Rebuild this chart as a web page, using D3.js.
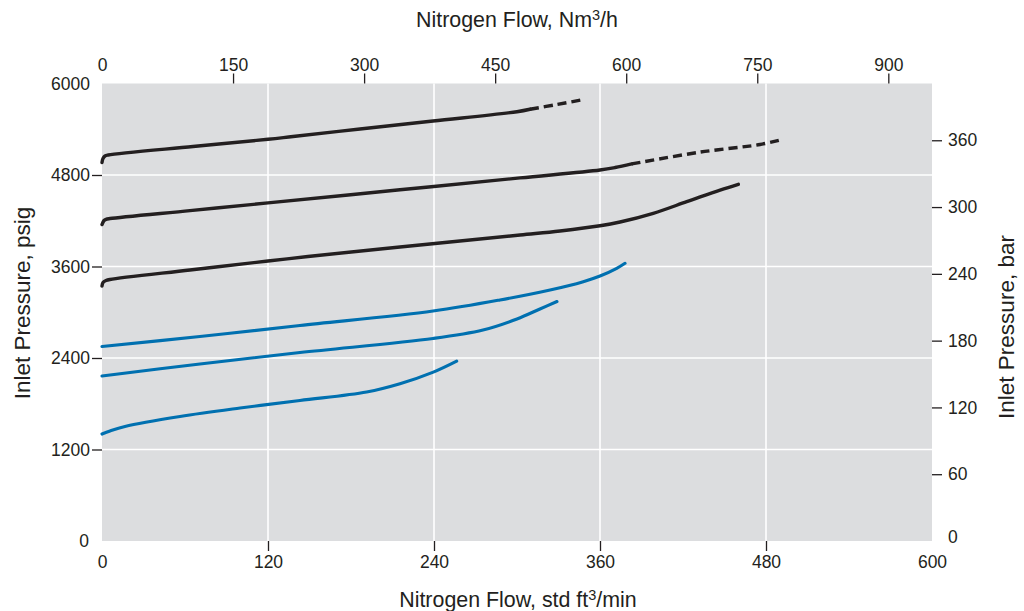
<!DOCTYPE html>
<html>
<head>
<meta charset="utf-8">
<script src="https://cdn.jsdelivr.net/npm/d3@7"></script>
<style>
  html, body { margin: 0; padding: 0; background: #fff; }
  svg { display: block; }
  text { font-family: "Liberation Sans", Arial, Helvetica, sans-serif; fill: #231f20; }
</style>
</head>
<body>
<svg id="chart" width="1024" height="611"></svg>
<script>
// ---- Data (flow in std ft3/min, pressure in psig) ----
const bottomTicks = [0, 120, 240, 360, 480, 600];
const topTicks = [0, 150, 300, 450, 600, 750, 900];
const leftTicks = [0, 1200, 2400, 3600, 4800, 6000];
const rightTicks = [0, 60, 120, 180, 240, 300, 360];

const line1Flow = [0, 0.72, 2.17, 4.55, 65.8, 120, 138.1, 186.5, 239.3, 300, 309.4];
const line1Psig = [4964, 5017, 5049, 5062, 5174, 5268, 5305, 5403, 5508, 5630, 5662];
const line1DashFlow = [309.4, 328.9, 349.2];
const line1DashPsig = [5662, 5725, 5793];

const line2Flow = [0, 1.45, 2.9, 5.8, 63.6, 120, 215.4, 302.2, 360, 370.9, 382.9];
const line2Psig = [4150, 4203, 4219, 4229, 4333, 4434, 4606, 4762, 4866, 4898, 4945];
const line2DashFlow = [382.9, 432.3, 475.7, 490.1];
const line2DashPsig = [4945, 5100, 5200, 5259];

const line3Flow = [0, 0.72, 2.9, 5.8, 63.6, 120, 148.9, 215.4, 302.2, 331.1, 360, 374.5, 398.5, 422.7, 446.8, 460];
const line3Psig = [3344, 3390, 3416, 3430, 3554, 3672, 3731, 3856, 4013, 4066, 4134, 4184, 4298, 4450, 4603, 4678];

const line4Flow = [0, 70.8, 143.1, 239.3, 287.7, 323.9, 347.9, 360, 372.1, 378.1];
const line4Psig = [2551, 2682, 2826, 3016, 3161, 3292, 3401, 3475, 3576, 3642];

const line5Flow = [0, 70.8, 143.1, 239.3, 275.4, 300, 316.6, 328.9];
const line5Psig = [2164, 2321, 2472, 2656, 2767, 2912, 3043, 3141];

const line6Flow = [0, 5.8, 16.6, 56.4, 99.8, 143.1, 191.3, 215.4, 239.5, 256.4];
const line6Psig = [1403, 1443, 1502, 1633, 1744, 1843, 1954, 2062, 2214, 2358];

// ---- Layout ----
const svg = d3.select("#chart");
const L = 102, R = 932, T = 83.5, B = 541;
const x = d3.scaleLinear().domain([0, 600]).range([L, R]);
const xTop = d3.scaleLinear().domain([0, 950]).range([L, R]);
const y = d3.scaleLinear().domain([0, 6000]).range([B, T]);
const yR = d3.scaleLinear().domain([0, 411]).range([B, T]);

const black = "#231f20", blue = "#0070b0";

// Plot background
svg.append("rect").attr("x", L).attr("y", T).attr("width", R - L).attr("height", B - T)
  .attr("fill", "#dcdddf");

// Grid
const grid = svg.append("g");
grid.selectAll("line.v").data(bottomTicks.filter(d => d > 0 && d < 600)).join("line")
  .attr("x1", d => x(d)).attr("x2", d => x(d)).attr("y1", T).attr("y2", B)
  .attr("stroke", "#fff").attr("stroke-width", 1.6);
grid.selectAll("line.h").data(leftTicks.filter(d => d > 0 && d < 6000)).join("line")
  .attr("x1", L).attr("x2", R).attr("y1", d => y(d)).attr("y2", d => y(d))
  .attr("stroke", "#fff").attr("stroke-width", 1.6);

// Axes
function styleAxis(g, edgeVals) {
  g.select(".domain").remove();
  g.selectAll(".tick line").attr("stroke", black).attr("stroke-width", 1.3)
    .filter(d => edgeVals.includes(d)).remove();
  g.selectAll(".tick text").attr("fill", black).style("font-size", "17.5px")
    .style("font-family", '"Liberation Sans", Arial, sans-serif');
}
const gB = svg.append("g").attr("transform", `translate(0,${B})`)
  .call(d3.axisBottom(x).tickValues(bottomTicks).tickSize(10).tickPadding(5).tickFormat(d3.format("d")));
styleAxis(gB, [0, 600]);
const gT = svg.append("g").attr("transform", `translate(0,${T})`)
  .call(d3.axisTop(xTop).tickValues(topTicks).tickSize(10).tickPadding(3).tickFormat(d3.format("d")));
styleAxis(gT, [0]);
const gL = svg.append("g").attr("transform", `translate(${L},0)`)
  .call(d3.axisLeft(y).tickValues(leftTicks).tickSize(10).tickPadding(2).tickFormat(d3.format("d")));
styleAxis(gL, [0, 6000]);
gL.selectAll(".tick text").filter(d => d === 0).attr("x", -13);
const gR = svg.append("g").attr("transform", `translate(${R},0)`)
  .call(d3.axisRight(yR).tickValues(rightTicks).tickSize(10).tickPadding(6).tickFormat(d3.format("d")));
styleAxis(gR, [0]);
gR.selectAll(".tick text").filter(d => d === 0).attr("x", 16).attr("dy", "0.1em");

// Curves
const lineGen = d3.line().x(d => x(d[0])).y(d => y(d[1])).curve(d3.curveCatmullRom.alpha(0.5));
const zip = (a, b) => a.map((v, i) => [v, b[i]]);
const curves = [
  { data: zip(line1Flow, line1Psig), color: black, w: 3.4, dash: null },
  { data: zip(line1DashFlow, line1DashPsig), color: black, w: 3.4, dash: "9,5" },
  { data: zip(line2Flow, line2Psig), color: black, w: 3.4, dash: null },
  { data: zip(line2DashFlow, line2DashPsig), color: black, w: 3.4, dash: "9,5" },
  { data: zip(line3Flow, line3Psig), color: black, w: 3.4, dash: null },
  { data: zip(line4Flow, line4Psig), color: blue, w: 3.1, dash: null },
  { data: zip(line5Flow, line5Psig), color: blue, w: 3.1, dash: null },
  { data: zip(line6Flow, line6Psig), color: blue, w: 3.1, dash: null }
];
svg.append("g").selectAll("path").data(curves).join("path")
  .attr("d", d => lineGen(d.data))
  .attr("fill", "none")
  .attr("stroke", d => d.color)
  .attr("stroke-width", d => d.w)
  .attr("stroke-linecap", d => d.dash ? "butt" : "round")
  .attr("stroke-dasharray", d => d.dash);

// Titles
function title(txt, sup, rest, size, attrs) {
  const t = svg.append("text").attr("text-anchor", "middle").style("font-size", size + "px");
  Object.entries(attrs).forEach(([k, v]) => t.attr(k, v));
  t.append("tspan").text(txt);
  if (sup) {
    t.append("tspan").text(sup).attr("dy", -7).style("font-size", (size * 0.68) + "px");
    t.append("tspan").text(rest).attr("dy", 7);
  }
  return t;
}
title("Nitrogen Flow, Nm", "3", "/h", 21.4, { x: 517, y: 27 });
title("Nitrogen Flow, std ft", "3", "/min", 21.4, { x: 518, y: 607 });
title("Inlet Pressure, psig", null, null, 22.5, { transform: "translate(30,303) rotate(-90)" });
title("Inlet Pressure, bar", null, null, 22.5, { transform: "translate(1014,327) rotate(-90)" });
</script>
</body>
</html>
